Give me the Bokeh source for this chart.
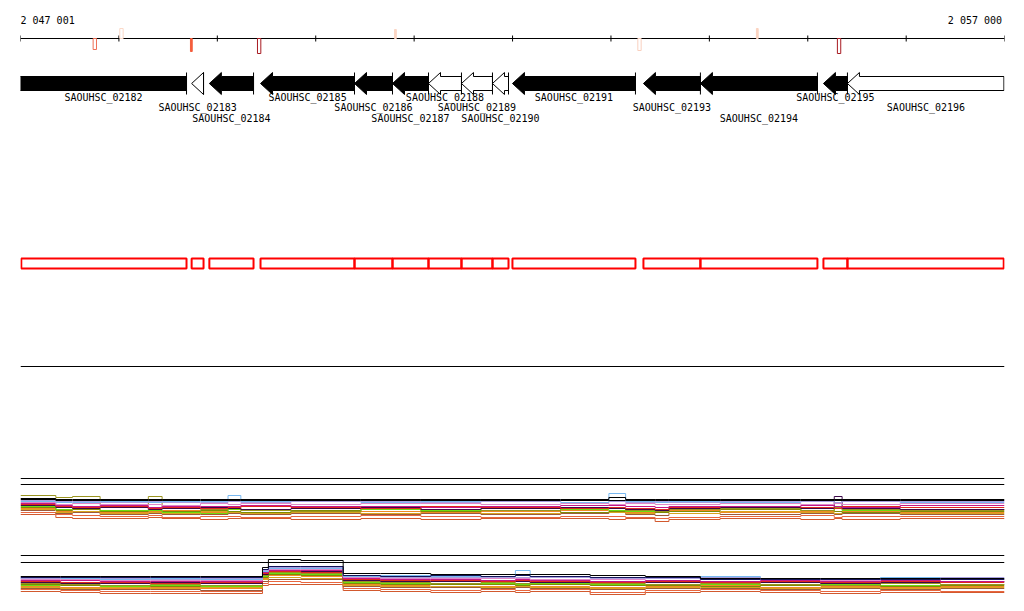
from bokeh.plotting import figure
from bokeh.models import Range1d
from bokeh.core.properties import value
from bokeh.embed import file_html
from bokeh.resources import INLINE

# ---------------- data ----------------
VIEW_START = 2047001
VIEW_END = 2057000

tick_positions = [2047001, 2048001, 2049001, 2050001, 2051001, 2052001,
                  2053001, 2054001, 2055001, 2056001, 2057000]
end_labels = ["2 047 001", "2 057 000"]

gene_names = ["SAOUHSC_02182", "SAOUHSC_02183", "SAOUHSC_02184", "SAOUHSC_02185",
              "SAOUHSC_02186", "SAOUHSC_02187", "SAOUHSC_02188", "SAOUHSC_02189",
              "SAOUHSC_02190", "SAOUHSC_02191", "SAOUHSC_02193", "SAOUHSC_02194",
              "SAOUHSC_02195", "SAOUHSC_02196"]
gene_start = [2046200, 2048740, 2048920, 2049440, 2050395, 2050781, 2051147,
              2051482, 2051797, 2052000, 2053331, 2053910, 2055160, 2055404]
gene_end = [2048688, 2048861, 2049369, 2050395, 2050781, 2051147, 2051482,
            2051797, 2051960, 2053250, 2053910, 2055099, 2055404, 2057400]
gene_strand = ["-"] * 14
gene_filled = [True, False, True, True, True, True, False, False, False,
               True, True, True, True, False]

# variant-like marks on the coordinate axis
mark_pos = [2047756, 2048027, 2048737, 2049426, 2050811, 2053291, 2054488, 2055319]
mark_value = [-11, 10, -13, -15, 9, -12, 10, -15]
mark_color = ["#ee6e55", "#fbd9c8", "#f45d3c", "#a81b22", "#fbd6c4", "#f9d0bf",
              "#fbd3c0", "#a81b22"]
mark_filled = [False, False, True, False, True, False, True, False]

# profile panel 1
p1_x = [2047001, 2047360, 2047530, 2047810, 2048300, 2048440, 2048830, 2049110,
        2049240, 2049750, 2050460, 2051070, 2051680, 2052490, 2052980, 2053150,
        2053450, 2053590, 2054110, 2054930, 2055270, 2055350, 2055940, 2057000]
p1_sienna = [8, 5, 4, 4, 5, 4, 3, 4, 4, 3, 4, 3, 4, 4, 3, 4, 1, 3, 4, 3, 4, 3, 4]
p1_tomato = [10, 8, 7, 6, 7, 5, 6, 6, 5, 6, 7, 6, 5, 6, 6, 5, 4, 5, 6, 7, 5, 6, 6]
p1_brown = [12, 9, 10, 8, 9, 8, 8, 9, 8, 9, 8, 9, 8, 9, 10, 8, 7, 9, 8, 9, 8, 9, 8]
p1_gold = [13, 10, 11, 9, 10, 9, 11, 10, 9, 10, 9, 10, 9, 11, 10, 9, 10, 9, 11, 10, 9, 10, 9]
p1_orange = [14, 11, 12, 10, 11, 12, 10, 11, 10, 12, 11, 10, 11, 12, 11, 10, 11, 12, 10, 11, 12, 11, 10]
p1_white = [11, 13, 12, 13, 12, 13, 12, 12, 11, 13, 12, 12, 13, 11, 12, 13, 12, 11, 12, 13, 12, 12, 11]
p1_drab = [15, 12, 13, 11, 12, 11, 12, 11, 10, 12, 13, 11, 12, 10, 11, 12, 10, 11, 13, 12, 11, 10, 11]
p1_lime = [16, 13, 14, 12, 12, 10, 9, 13, 12, 11, 13, 12, 14, 13, 12, 11, 12, 13, 14, 12, 15, 12, 13]
p1_olive = [27, 25, 26, 18, 26, 14, 13, 15, 12, 11, 14, 13, 12, 15, 14, 12, 11, 13, 14, 12, 15, 13, 12]
p1_purple = [17, 15, 14, 15, 13, 14, 15, 14, 13, 14, 15, 13, 14, 15, 14, 13, 12, 14, 15, 14, 26, 14, 13]
p1_red = [18, 16, 15, 16, 14, 15, 14, 15, 16, 15, 14, 16, 15, 14, 15, 14, 13, 15, 16, 15, 14, 16, 15]
p1_magenta = [19, 17, 16, 17, 15, 16, 16, 16, 17, 16, 16, 15, 16, 17, 17, 16, 15, 16, 16, 17, 16, 15, 17]
p1_pink = [20, 18, 19, 18, 18, 17, 19, 18, 19, 18, 19, 19, 18, 19, 18, 19, 18, 18, 19, 18, 19, 18, 19]
p1_blue = [21, 20, 20, 21, 20, 21, 21, 27, 21, 21, 20, 21, 21, 20, 29, 21, 20, 21, 20, 21, 22, 21, 20]
p1_lavender = [22, 21, 21, 20, 21, 20, 20, 21, 20, 21, 21, 20, 21, 22, 21, 20, 21, 20, 21, 21, 20, 21, 21]
p1_black2 = [23, 22, 22, 22, 22, 22, 22, 22, 22, 22, 22, 22, 22, 22, 22, 22, 22, 22, 22, 22, 22, 22, 22]
p1_black = [24, 23, 23, 23, 23, 23, 23, 23, 23, 23, 23, 23, 23, 23, 25, 23, 23, 23, 23, 23, 23, 23, 23]
p1_refs = [44, 38]

# profile panel 2
p2_x = [2047001, 2047410, 2047810, 2048320, 2048830, 2049460, 2049520, 2049850,
        2050280, 2050660, 2051170, 2051680, 2052030, 2052180, 2052790, 2053350,
        2053910, 2054520, 2055130, 2055740, 2056350, 2057000]
p2_sienna = [6, 5, 4, 4, 4, 12, 13, 13, 7, 6, 5, 6, 5, 6, 3, 5, 6, 5, 4, 5, 5]
p2_tomato = [8, 7, 6, 6, 6, 14, 16, 15, 9, 8, 7, 8, 7, 8, 5, 7, 8, 7, 6, 7, 6]
p2_brown = [9, 8, 8, 8, 7, 16, 18, 18, 11, 10, 10, 9, 10, 9, 8, 9, 9, 8, 9, 8, 9]
p2_gold = [10, 9, 10, 9, 10, 18, 20, 19, 12, 11, 11, 10, 11, 10, 9, 10, 10, 9, 10, 9, 10]
p2_orange = [11, 10, 9, 10, 9, 19, 22, 21, 13, 12, 12, 11, 12, 11, 10, 11, 12, 10, 11, 10, 11]
p2_white = [12, 11, 13, 12, 13, 20, 21, 22, 14, 13, 12, 12, 13, 12, 11, 12, 11, 11, 12, 12, 12]
p2_lime = [12, 12, 11, 12, 11, 21, 24, 23, 15, 14, 13, 14, 13, 14, 13, 12, 13, 12, 13, 12, 13]
p2_drab = [13, 12, 12, 11, 12, 20, 23, 22, 14, 13, 13, 13, 12, 13, 12, 12, 11, 12, 12, 11, 12]
p2_olive = [14, 13, 12, 13, 12, 22, 25, 24, 16, 15, 14, 15, 14, 15, 14, 13, 14, 13, 12, 14, 13]
p2_purple = [15, 14, 14, 15, 14, 23, 26, 26, 17, 16, 16, 17, 16, 15, 15, 15, 16, 15, 14, 15, 16]
p2_red = [16, 15, 15, 14, 15, 24, 26, 25, 18, 17, 17, 16, 17, 16, 15, 16, 15, 16, 15, 16, 15]
p2_magenta = [17, 17, 16, 16, 16, 25, 27, 27, 19, 18, 18, 17, 18, 17, 16, 17, 16, 17, 16, 17, 16]
p2_pink = [18, 18, 17, 17, 17, 26, 28, 28, 20, 19, 19, 19, 19, 18, 18, 19, 18, 18, 17, 18, 18]
p2_blue = [19, 19, 18, 19, 18, 26, 29, 29, 21, 22, 21, 21, 27, 21, 20, 20, 21, 19, 19, 20, 19]
p2_lavender = [19, 20, 19, 18, 19, 27, 30, 30, 22, 20, 20, 20, 20, 20, 19, 19, 20, 19, 19, 19, 20]
p2_black2 = [20, 20, 20, 20, 20, 28, 31, 31, 22, 21, 22, 21, 22, 21, 20, 20, 18, 18, 18, 18, 18]
p2_black = [21, 21, 21, 21, 21, 30, 38, 37, 24, 24, 23, 23, 23, 23, 22, 21, 19, 19, 19, 19, 19]
p2_refs = [42, 35]

# ---------------- styles / layout ----------------
FONT = value("DejaVu Sans Mono")
AXIS_Y = 38
TICK_HALF = 3
GENE_Y, BODY_HALF, HEAD_HALF = 83, 7, 11
HEAD_BP = 122
EDGE_PAD = 6
LABEL_ROWS = [97, 106.5, 118]
BOX_TOP, BOX_BOTTOM = 258, 268
SEP_Y = 366
MARK_W_HOLLOW, MARK_W_FILLED = 34, 18

p = figure(width=1012, height=605,
           x_range=Range1d(VIEW_START, VIEW_END), y_range=Range1d(605, 0),
           output_backend="svg", toolbar_location=None,
           x_axis_location=None, y_axis_location=None,
           min_border_left=20, min_border_right=8,
           min_border_top=0, min_border_bottom=0)
p.xgrid.grid_line_color = None
p.ygrid.grid_line_color = None
p.outline_line_color = None
p.background_fill_color = "white"
p.border_fill_color = "white"
# panel 1: pixel = 522 - v ; panel 2: pixel = 597 - v
p.extra_y_ranges = {"p1": Range1d(start=-83, end=522), "p2": Range1d(start=-8, end=597)}

# ---- coordinate axis ----
p.segment(x0=[VIEW_START], x1=[VIEW_END], y0=[AXIS_Y], y1=[AXIS_Y],
          line_color="black", line_width=1)
p.segment(x0=tick_positions, x1=tick_positions,
          y0=[AXIS_Y - TICK_HALF] * len(tick_positions),
          y1=[AXIS_Y + TICK_HALF] * len(tick_positions),
          line_color="black", line_width=1)
p.text(x=[tick_positions[0]], y=[20], text=[end_labels[0]], text_font=FONT,
       text_font_size="10px", text_align="left", text_baseline="middle",
       text_color="black")
p.text(x=[tick_positions[-1] - 25], y=[20], text=[end_labels[1]], text_font=FONT,
       text_font_size="10px", text_align="right", text_baseline="middle",
       text_color="black")

# ---- marks on the axis ----
for pos, val, col, filled in zip(mark_pos, mark_value, mark_color, mark_filled):
    w = MARK_W_FILLED if filled else MARK_W_HOLLOW
    top = min(AXIS_Y, AXIS_Y - val)
    bottom = max(AXIS_Y, AXIS_Y - val)
    p.quad(left=[pos - w / 2], right=[pos + w / 2], top=[top], bottom=[bottom],
           fill_color=col if filled else "white", line_color=col, line_width=1)

# ---- genes ----
xs_list, ys_list, fills = [], [], []
tick_x = []
label_x, label_y = [], []
for i, (s, e, st, f) in enumerate(zip(gene_start, gene_end, gene_strand, gene_filled)):
    vs = max(s, VIEW_START - 200)
    ve = min(e, VIEW_END - EDGE_PAD)
    if st == "-":
        if ve - vs <= HEAD_BP:
            xs = [vs, ve, ve]
            ys = [GENE_Y, GENE_Y - HEAD_HALF, GENE_Y + HEAD_HALF]
        else:
            h = vs + HEAD_BP
            xs = [vs, h, h, ve, ve, h, h]
            ys = [GENE_Y, GENE_Y - HEAD_HALF, GENE_Y - BODY_HALF, GENE_Y - BODY_HALF,
                  GENE_Y + BODY_HALF, GENE_Y + BODY_HALF, GENE_Y + HEAD_HALF]
        start_tick = e
    else:
        if ve - vs <= HEAD_BP:
            xs = [ve, vs, vs]
            ys = [GENE_Y, GENE_Y - HEAD_HALF, GENE_Y + HEAD_HALF]
        else:
            h = ve - HEAD_BP
            xs = [ve, h, h, vs, vs, h, h]
            ys = [GENE_Y, GENE_Y - HEAD_HALF, GENE_Y - BODY_HALF, GENE_Y - BODY_HALF,
                  GENE_Y + BODY_HALF, GENE_Y + BODY_HALF, GENE_Y + HEAD_HALF]
        start_tick = s
    xs_list.append(xs)
    ys_list.append(ys)
    fills.append("black" if f else "white")
    if VIEW_START < start_tick < VIEW_END:
        tick_x.append(start_tick)
    label_x.append((max(s, VIEW_START) + min(e, VIEW_END)) / 2)
    label_y.append(LABEL_ROWS[i % 3])

p.patches(xs=xs_list, ys=ys_list, fill_color=fills, line_color="black", line_width=1)
p.segment(x0=tick_x, x1=tick_x, y0=[GENE_Y - HEAD_HALF] * len(tick_x),
          y1=[GENE_Y + HEAD_HALF] * len(tick_x), line_color="black", line_width=1)
p.text(x=label_x, y=label_y, text=gene_names, text_font=FONT, text_font_size="10px",
       text_align="center", text_baseline="middle", text_color="black")

# ---- red box track ----
box_left = [max(s, VIEW_START + 8) for s in gene_start]
box_right = [min(e, VIEW_END - 8) for e in gene_end]
p.quad(left=box_left, right=box_right, top=[BOX_TOP] * len(box_left),
       bottom=[BOX_BOTTOM] * len(box_left), fill_color=None, line_color="#ff0000",
       line_width=2)

# ---- separator ----
p.segment(x0=[VIEW_START], x1=[VIEW_END], y0=[SEP_Y], y1=[SEP_Y],
          line_color="black", line_width=1)

# ---- profile panels ----
p1_series = [(p1_sienna, "#d2592e"), (p1_tomato, "#e8663f"), (p1_brown, "#9c5a3c"),
             (p1_gold, "#d9a520"), (p1_orange, "#f08a24"), (p1_white, "#ffffff"),
             (p1_drab, "#7d8c06"), (p1_lime, "#6cdc10"), (p1_olive, "#9a9420"),
             (p1_purple, "#3c0848"), (p1_red, "#e0281e"), (p1_magenta, "#c2188a"),
             (p1_pink, "#e088c8"), (p1_blue, "#78b8f0"), (p1_lavender, "#a8a0e0"),
             (p1_black2, "#000000"), (p1_black, "#000000")]
p2_series = [(p2_sienna, "#d2592e"), (p2_tomato, "#e8663f"), (p2_brown, "#9c5a3c"),
             (p2_gold, "#d9a520"), (p2_orange, "#f08a24"), (p2_white, "#ffffff"),
             (p2_lime, "#6cdc10"), (p2_drab, "#7d8c06"), (p2_olive, "#9a9420"),
             (p2_purple, "#3c0848"), (p2_red, "#e0281e"), (p2_magenta, "#c2188a"),
             (p2_pink, "#e088c8"), (p2_blue, "#78b8f0"), (p2_lavender, "#a8a0e0"),
             (p2_black2, "#14145a"), (p2_black, "#000000")]

for refs, rname in ((p1_refs, "p1"), (p2_refs, "p2")):
    p.segment(x0=[VIEW_START] * len(refs), x1=[VIEW_END] * len(refs), y0=refs, y1=refs,
              line_color="black", line_width=1, y_range_name=rname)

for series, xb, rname in ((p1_series, p1_x, "p1"), (p2_series, p2_x, "p2")):
    for vals, col in series:
        p.step(x=xb, y=vals + [vals[-1]], mode="after", line_color=col,
               line_width=1, y_range_name=rname)

open("out.html", "w").write(file_html(p, INLINE))
